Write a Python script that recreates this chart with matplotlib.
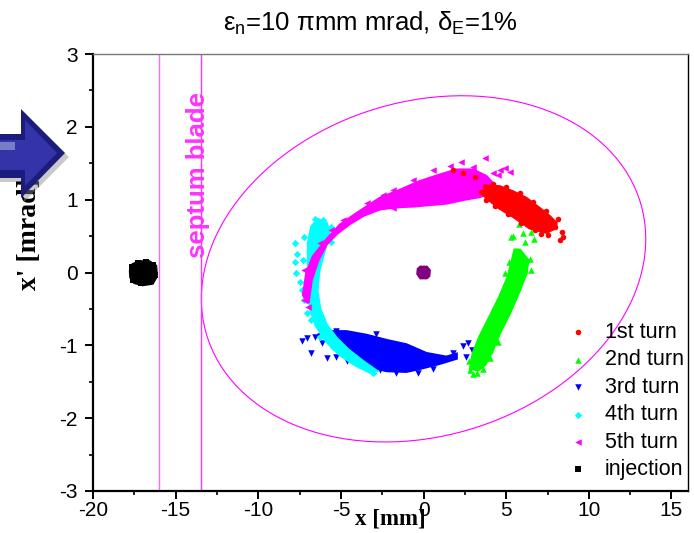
import matplotlib
matplotlib.use("Agg")
import matplotlib.pyplot as plt
from matplotlib.patches import Ellipse, Polygon
from matplotlib.ticker import MultipleLocator

plt.rcParams['font.family'] = ['Liberation Sans', 'DejaVu Sans']
plt.rcParams['mathtext.fontset'] = 'custom'
plt.rcParams['mathtext.rm'] = 'Liberation Sans'
plt.rcParams['axes.unicode_minus'] = False

# ---------------- data ----------------
x_ticks = [-20, -15, -10, -5, 0, 5, 10, 15]
y_ticks = [-3, -2, -1, 0, 1, 2, 3]
series_labels = ['1st turn', '2nd turn', '3rd turn', '4th turn', '5th turn', 'injection']
series_colors = ['#ff0000', '#00ff00', '#0000ff', '#00ffff', '#ff00ff', '#000000']
series_markers = ['o', '^', 'v', 'D', '<', 's']

# acceptance ellipse (data units)
ellipse_center_x = 0.0
ellipse_center_y = 0.05
ellipse_width = 26.9
ellipse_height = 4.68
ellipse_angle = 1.8

# septum blade positions (mm)
septum_x = [-16.0, -13.45]

# 1st turn (dense core outline + individual particles)
turn1_core_x = [3.70, 4.61, 5.41, 6.22, 7.03, 7.63, 8.03, 7.99, 7.43, 6.42, 5.41, 4.61, 4.00, 3.64]
turn1_core_y = [1.19, 1.18, 1.11, 1.02, 0.88, 0.77, 0.68, 0.61, 0.55, 0.61, 0.77, 0.88, 0.99, 1.06]
turn1_x = [8.44, 8.23, 8.39, 7.93, 7.53, 7.13, 6.72, 8.13, 7.43, 6.62, 5.82, 5.01, 4.20, 3.50,
           3.76, 4.30, 5.11, 5.92, 1.79, 2.39, 3.09]
turn1_y = [0.49, 0.44, 0.55, 0.63, 0.52, 0.53, 0.58, 0.73, 0.84, 0.97, 1.09, 1.17, 1.22, 1.11,
           1.00, 0.91, 0.80, 0.68, 1.41, 1.36, 1.31]

# 2nd turn
turn2_core_x = [2.83, 2.99, 3.40, 4.00, 4.61, 5.11, 5.37, 5.51, 5.82, 6.32, 6.22, 5.82, 5.21,
                4.61, 4.10, 3.70, 3.30]
turn2_core_y = [-1.32, -1.11, -0.88, -0.61, -0.33, -0.06, 0.17, 0.31, 0.31, 0.17, -0.01, -0.24,
                -0.56, -0.83, -1.11, -1.27, -1.34]
turn2_x = [5.78, 5.41, 6.02, 6.52, 6.66, 6.12, 5.27, 5.57, 6.42, 6.52, 5.17, 4.91, 5.51, 4.30,
           3.64, 2.75, 2.79, 2.99, 3.26, 3.60, 4.50, 4.04]
turn2_y = [0.67, 0.50, 0.54, 0.56, 0.46, 0.42, 0.49, 0.30, 0.18, 0.03, 0.15, -0.01, -0.29, -0.70,
           -0.97, -1.22, -1.34, -1.40, -1.38, -1.32, -0.95, -1.18]

# 3rd turn
turn3_core_x = [-5.87, -4.66, -3.45, -2.25, -1.04, 0.17, 1.38, 1.99, 1.99, 0.98, -0.23, -1.04,
                -2.25, -3.45, -4.26, -5.07, -5.67]
turn3_core_y = [-0.81, -0.81, -0.86, -0.93, -0.99, -1.11, -1.16, -1.12, -1.18, -1.25, -1.32, -1.36,
                -1.35, -1.28, -1.19, -1.06, -0.94]
turn3_x = [-7.38, -7.08, -6.78, -6.58, -6.17, -5.87, -5.27, -4.66, -3.66, -2.65, -1.64, -0.33,
           0.58, 1.78, 2.39, 2.69, 2.55, 2.95, -2.85, -5.27, -6.28]
turn3_y = [-0.94, -0.90, -1.10, -0.88, -0.97, -1.18, -1.16, -1.22, -1.29, -1.34, -1.38, -1.38,
           -1.32, -1.11, -1.01, -0.97, -1.16, -1.06, -0.84, -0.80, -0.87]

# 4th turn
turn4_core_x = [-6.38, -6.78, -6.98, -6.98, -6.98, -6.84, -6.48, -5.87, -5.07, -4.06, -3.25,
                -2.85, -3.66, -4.56, -5.27, -5.87, -6.28, -6.44, -6.32, -5.98, -5.71, -5.87]
turn4_core_y = [0.73, 0.63, 0.40, 0.08, -0.24, -0.51, -0.74, -0.95, -1.13, -1.28, -1.37,
                -1.35, -1.22, -1.06, -0.90, -0.72, -0.49, -0.24, 0.03, 0.31, 0.54, 0.68]
turn4_x = [-7.79, -7.65, -7.79, -7.69, -7.48, -7.32, -7.24, -7.38, -7.24, -7.08, -6.78, -6.28,
           -5.47, -4.26, -3.05, -6.58, -6.07, -5.63, -5.57, -6.68]
turn4_y = [0.40, 0.26, 0.15, -0.01, -0.13, 0.17, 0.49, -0.24, -0.38, -0.56, -0.65, -0.88,
           -1.02, -1.22, -1.38, 0.74, 0.72, 0.63, 0.42, 0.35]

# 5th turn
turn5_core_x = [-7.28, -7.08, -6.68, -5.87, -5.07, -4.06, -2.65, -1.44, -0.23, 0.98, 1.99, 2.99,
                3.80, 4.20, 4.41, 4.00, 3.40, 2.39, 1.38, 0.37, -0.63, -1.64, -2.65, -3.66,
                -4.46, -5.27, -5.87, -6.38, -6.78, -6.98]
turn5_core_y = [-0.31, -0.01, 0.22, 0.45, 0.65, 0.81, 1.02, 1.13, 1.25, 1.34, 1.41, 1.41,
                1.32, 1.22, 1.16, 1.09, 1.04, 1.00, 0.95, 0.93, 0.91, 0.90, 0.87, 0.78,
                0.67, 0.53, 0.39, 0.17, -0.10, -0.42]
turn5_x = [0.58, 1.58, 2.29, 3.70, 4.91, 4.61, 4.20, 2.99, -0.63, -1.84, -3.45, -2.45, -4.87,
           -5.57, -6.28, -6.78, -7.24, -7.12, -7.24, -6.98, -1.84, -4.26, 5.21, 4.51]
turn5_y = [1.41, 1.46, 1.52, 1.57, 1.43, 1.41, 1.36, 1.45, 1.27, 1.13, 0.95, 1.06, 0.72,
           0.58, 0.40, 0.08, 0.04, -0.24, -0.38, -0.48, 0.88, 0.77, 1.38, 1.34]

# injected beam
inj_core_x = [-17.75, -17.6, -17.2, -16.6, -16.2, -16.15, -16.4, -17.0, -17.5, -17.72]
inj_core_y = [0.02, 0.11, 0.15, 0.15, 0.09, -0.05, -0.15, -0.17, -0.14, -0.07]
inj_x = [-17.65, -17.3, -16.8, -16.35, -16.25, -16.6, -17.1, -17.55, -17.0]
inj_y = [0.08, 0.13, 0.14, 0.10, -0.04, -0.12, -0.15, -0.10, 0.0]

# closed-orbit spot
orbit_core_x = [-0.35, -0.2, 0.2, 0.38, 0.35, 0.2, -0.2, -0.38]
orbit_core_y = [0.05, 0.08, 0.08, 0.03, -0.05, -0.08, -0.08, -0.02]

title_text = 'ε$_\\mathrm{n}$=10 πmm mrad, δ$_\\mathrm{E}$=1%'

# ---------------- figure ----------------
fig = plt.figure(figsize=(6.94, 5.33), dpi=100)
ax = fig.add_axes([93 / 694, 42 / 533, 595 / 694, 437 / 533])
ax.set_xlim(-20, 16)
ax.set_ylim(-3, 3)

# ellipse + septum
ax.add_patch(Ellipse((ellipse_center_x, ellipse_center_y), ellipse_width, ellipse_height,
                     angle=ellipse_angle, fill=False, ec='#ff00ff', lw=0.8, zorder=2))
ax.axvline(septum_x[0], color='#ff66ff', lw=1.0, zorder=2)
ax.axvline(septum_x[1], color='#ff33ff', lw=1.0, zorder=2)
ax.text(-13.65, 1.34, 'septum blade', rotation=90, ha='center', va='center',
        color='#ff33ff', fontsize=18.5, fontweight='bold', zorder=3)

cores = [(turn1_core_x, turn1_core_y), (turn2_core_x, turn2_core_y), (turn3_core_x, turn3_core_y),
         (turn4_core_x, turn4_core_y), (turn5_core_x, turn5_core_y), (inj_core_x, inj_core_y)]
pts = [(turn1_x, turn1_y), (turn2_x, turn2_y), (turn3_x, turn3_y), (turn4_x, turn4_y),
       (turn5_x, turn5_y), (inj_x, inj_y)]
zorders = [8, 7, 4, 5, 6, 4]
sizes = [16, 22, 22, 14, 22, 24]
handles = []
for i in range(6):
    cx, cy = cores[i]
    ax.fill(cx, cy, color=series_colors[i], lw=2.0, zorder=zorders[i])
    px, py = pts[i]
    h = ax.scatter(px, py, s=sizes[i], marker=series_markers[i], c=series_colors[i],
                   linewidths=0, label=series_labels[i], zorder=zorders[i])
    handles.append(h)
ax.fill(orbit_core_x, orbit_core_y, color='#800080', lw=1.5, zorder=4)

# spines and ticks
for side in ['left', 'bottom']:
    ax.spines[side].set_linewidth(1.6)
ax.spines['right'].set_linewidth(1.0)
ax.spines['top'].set_linewidth(1.0)
ax.spines['top'].set_color('#777777')
ax.set_xticks(x_ticks)
ax.set_yticks(y_ticks)
ax.xaxis.set_minor_locator(MultipleLocator(2.5))
ax.yaxis.set_minor_locator(MultipleLocator(0.5))
ax.tick_params(which='major', direction='out', length=6, width=1.4, labelsize=15,
               top=False, right=False)
ax.tick_params(axis='x', which='major', pad=1)
ax.tick_params(axis='y', which='major', pad=5)
ax.tick_params(which='minor', direction='out', length=3, width=1.2, top=False, right=False)

ax.set_xlabel('x [mm]', family='Liberation Serif', fontweight='bold', fontsize=16.5,
              ha='center', va='center')
ax.xaxis.set_label_coords((390 - 93) / 595, (491 - 519) / 437)
ax.set_ylabel("x' [mrad]", family='Liberation Serif', fontweight='bold', fontsize=20,
              ha='center', va='center')
ax.yaxis.set_label_coords((29 - 93) / 595, (491 - 234) / 437)

fig.text(370 / 694, 1 - 23 / 533, title_text, ha='center', va='center', fontsize=18.5)

leg = ax.legend(handles=handles, loc='lower right', bbox_to_anchor=(1.0, 0.015), frameon=False,
                fontsize=15.5, handlelength=1.0, handletextpad=0.75, labelspacing=0.3,
                borderpad=0.2, borderaxespad=0.0, scatterpoints=1, markerscale=1.0)

# decorative 3D arrow at the left edge (figure pixel geometry)
def fp(pts_px):
    return [(x / 694, 1 - y / 533) for x, y in pts_px]

shadow = [(-5, 138), (24, 138), (24, 113), (69, 157), (24, 202), (24, 182), (-5, 182)]
outer = [(-5, 134), (21, 134), (21, 109), (65, 153), (21, 198), (21, 178), (-5, 178)]
inner = [(-5, 140), (25, 140), (25, 120), (57, 153), (25, 186), (25, 170), (-5, 170)]
hilite = [(-5, 142), (15, 142), (15, 150), (-5, 150)]
fig.add_artist(Polygon(fp(shadow), closed=True, transform=fig.transFigure,
                       fc='#888888', ec='none', alpha=0.45, zorder=10))
fig.add_artist(Polygon(fp(outer), closed=True, transform=fig.transFigure,
                       fc='#1c1c7c', ec='none', zorder=11))
fig.add_artist(Polygon(fp(inner), closed=True, transform=fig.transFigure,
                       fc='#3434a8', ec='none', zorder=12))
fig.add_artist(Polygon(fp(hilite), closed=True, transform=fig.transFigure,
                       fc='#8a90d0', ec='none', alpha=0.8, zorder=13))

fig.savefig('out.png', dpi=100)
